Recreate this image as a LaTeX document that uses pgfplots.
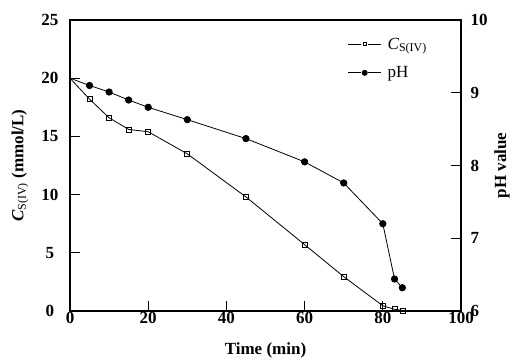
\documentclass[border=0pt]{standalone}
\usepackage{pgfplots}
\pgfplotsset{compat=1.18}
\usepackage{fontspec}
\setmainfont{Liberation Serif}
\begin{document}
\begin{tikzpicture}
\pgfplotsset{
  myaxis/.style={
    scale only axis, width=391pt, height=291pt,
    xmin=0, xmax=100,
    font=\fontsize{17}{19}\selectfont,
    ticklabel style={font=\fontsize{17}{19}\selectfont\bfseries},
    /pgf/number format/assume math mode=true,
    tick align=inside, major tick length=10pt,
    axis line style={line width=1.2pt},
    every tick/.style={line width=1pt, black},
  },
  sqimg/.style={legend image code/.code={
    \draw (0pt,0pt) -- (13pt,0pt);
    \draw (20pt,0pt) -- (33pt,0pt);
    \draw[mark phase=1, mark repeat=1, mark options={scale=0.6}] plot coordinates {(16.5pt,0pt)};}},
  cirimg/.style={legend image code/.code={
    \draw (0pt,0pt) -- (13pt,0pt);
    \draw (20pt,0pt) -- (33pt,0pt);
    \draw[mark phase=1, mark repeat=1, mark options={scale=0.8}] plot coordinates {(16.5pt,0pt)};}},
}
\begin{axis}[myaxis,
  ymin=0, ymax=25,
  xtick={0,20,40,60,80,100}, ytick={0,5,10,15,20,25},
  xtick pos=bottom, ytick pos=left,
  yticklabel style={anchor=center, xshift=-20pt},
  xticklabel style={yshift=2pt},
  xlabel={\textbf{Time (min)}},
  ylabel={\textbf{\textit{C}}\textsubscript{S(IV)} \textbf{(mmol/L)}},
  xlabel style={at={(rel axis cs:0.5,0)}, anchor=center, yshift=-39pt},
  ylabel style={at={(rel axis cs:0,0.5)}, anchor=center, yshift=50pt},
  clip=false,
]
\addplot[black, line width=0.8pt, mark=square, mark size=2.5pt, mark phase=2, mark options={fill=white, line width=0.7pt}] coordinates {
(0,20.0) (5,18.2) (10,16.6) (15,15.6) (20,15.4) (30,13.5) (45,9.8) (60,5.7) (70,2.95) (80,0.45) (83,0.15) (85,0.05)
};
\path ([xshift=-70pt,yshift=-49pt]rel axis cs:0,0) rectangle ([xshift=54pt,yshift=20pt]rel axis cs:1,1);
\end{axis}
\begin{axis}[myaxis,
  ymin=6, ymax=10,
  ytick={6,7,8,9,10},
  axis x line=none,
  axis y line*=right,
  y axis line style={-},
  yticklabel style={xshift=6pt},
  ylabel={\textbf{pH value}},
  ylabel style={at={(rel axis cs:1,0.5)}, anchor=center, yshift=-41pt},
  legend style={draw=none, fill=none, at={(0.71,0.943)}, anchor=north west,
    font=\fontsize{17}{19}\selectfont, row sep=14pt, inner sep=0pt,
    nodes={inner sep=1pt},
    /tikz/every odd column/.append style={column sep=5pt}},
  legend cell align=left,
]
\addlegendimage{black, line width=0.8pt, mark=square, mark size=2.5pt, mark options={fill=white, line width=0.7pt}, sqimg}
\addlegendentry{\textit{C}\textsubscript{S(IV)}}
\addplot[black, line width=0.8pt, mark=*, mark size=3.2pt, mark phase=2, cirimg] coordinates {
(0,9.2) (5,9.10) (10,9.01) (15,8.90) (20,8.80) (30,8.63) (45,8.37) (60,8.05) (70,7.76) (80,7.20) (83,6.44) (85,6.32)
};
\addlegendentry{pH}
\end{axis}
\end{tikzpicture}
\end{document}
